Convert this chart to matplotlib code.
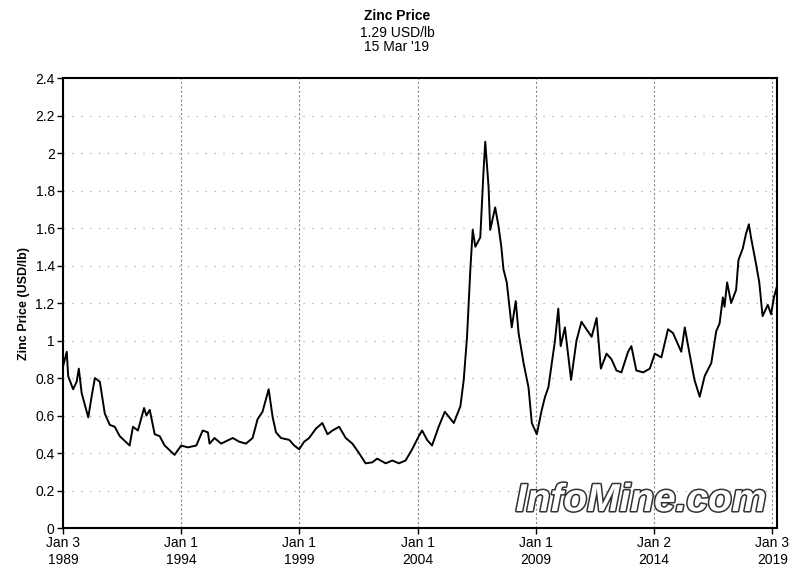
import matplotlib
matplotlib.use("Agg")
import matplotlib.pyplot as plt
import matplotlib.patheffects as pe

# zinc price, USD/lb (x in decimal years)
years = [1989.00, 1989.16, 1989.22, 1989.43, 1989.58, 1989.67, 1989.79,
         1990.07, 1990.21, 1990.35, 1990.56, 1990.77, 1990.98, 1991.19,
         1991.40, 1991.82, 1991.96, 1992.17, 1992.43, 1992.53, 1992.67,
         1992.88, 1993.09, 1993.30, 1993.72, 1994.00, 1994.28, 1994.64,
         1994.91, 1995.13, 1995.20, 1995.41, 1995.69, 1996.18, 1996.46,
         1996.74, 1997.02, 1997.23, 1997.44, 1997.70, 1997.87, 1998.01,
         1998.22, 1998.57, 1998.78, 1998.99, 1999.20, 1999.41, 1999.70,
         1999.97, 2000.19, 2000.40, 2000.68, 2000.96, 2001.24, 2001.52,
         2001.80, 2002.08, 2002.29, 2002.65, 2002.93, 2003.21, 2003.49,
         2003.77, 2004.05, 2004.19, 2004.40, 2004.61, 2004.89, 2005.15,
         2005.53, 2005.81, 2005.95, 2006.09, 2006.23, 2006.33, 2006.44,
         2006.65, 2006.79, 2006.86, 2007.00, 2007.07, 2007.28, 2007.42,
         2007.54, 2007.63, 2007.77, 2007.98, 2008.15, 2008.27, 2008.48,
         2008.69, 2008.83, 2009.04, 2009.25, 2009.39, 2009.53, 2009.81,
         2009.95, 2010.05, 2010.23, 2010.49, 2010.72, 2010.93, 2011.14,
         2011.36, 2011.57, 2011.75, 2011.99, 2012.20, 2012.41, 2012.62,
         2012.90, 2013.04, 2013.25, 2013.54, 2013.82, 2014.03, 2014.31,
         2014.59, 2014.80, 2015.15, 2015.30, 2015.50, 2015.71, 2015.93,
         2016.14, 2016.42, 2016.63, 2016.77, 2016.91, 2016.98, 2017.09,
         2017.26, 2017.47, 2017.57, 2017.75, 2017.89, 2018.01, 2018.10,
         2018.31, 2018.45, 2018.59, 2018.81, 2018.95, 2019.07, 2019.20]
prices = [0.86, 0.94, 0.81, 0.74, 0.78, 0.85, 0.72,
          0.59, 0.70, 0.80, 0.78, 0.61, 0.55, 0.54,
          0.49, 0.44, 0.54, 0.52, 0.64, 0.60, 0.63,
          0.50, 0.49, 0.44, 0.39, 0.44, 0.43, 0.44,
          0.52, 0.51, 0.45, 0.48, 0.45, 0.48, 0.46,
          0.45, 0.48, 0.58, 0.62, 0.74, 0.59, 0.51,
          0.48, 0.47, 0.44, 0.42, 0.46, 0.48, 0.53,
          0.56, 0.50, 0.52, 0.54, 0.48, 0.45, 0.40,
          0.345, 0.35, 0.37, 0.345, 0.36, 0.345, 0.36,
          0.42, 0.49, 0.52, 0.47, 0.44, 0.54, 0.62,
          0.56, 0.65, 0.79, 1.02, 1.38, 1.59, 1.50,
          1.55, 1.91, 2.06, 1.82, 1.59, 1.71, 1.61,
          1.50, 1.38, 1.31, 1.07, 1.21, 1.04, 0.88,
          0.75, 0.56, 0.50, 0.63, 0.70, 0.75, 1.00,
          1.17, 0.97, 1.07, 0.79, 1.00, 1.10, 1.06,
          1.02, 1.12, 0.85, 0.93, 0.90, 0.84, 0.83,
          0.94, 0.97, 0.84, 0.83, 0.85, 0.93, 0.91,
          1.06, 1.04, 0.94, 1.07, 0.93, 0.79, 0.70,
          0.81, 0.88, 1.05, 1.09, 1.23, 1.18, 1.31,
          1.20, 1.27, 1.43, 1.49, 1.57, 1.62, 1.55,
          1.41, 1.31, 1.13, 1.19, 1.14, 1.23, 1.29]

tick_pos = [1989.005, 1994.0, 1999.0, 2004.0, 2009.0, 2014.003, 2019.005]
tick_labels = ["Jan 3\n1989", "Jan 1\n1994", "Jan 1\n1999", "Jan 1\n2004",
               "Jan 1\n2009", "Jan 2\n2014", "Jan 3\n2019"]
y_ticks = [0, 0.2, 0.4, 0.6, 0.8, 1, 1.2, 1.4, 1.6, 1.8, 2, 2.2, 2.4]

plt.rcParams['font.family'] = ['Liberation Sans', 'DejaVu Sans']

fig = plt.figure(figsize=(7.94, 5.78), dpi=100)
ax = fig.add_axes([0.0793, 0.0865, 0.8993, 0.7785])

ax.plot(years, prices, color='black', linewidth=1.4)

ax.set_xlim(1989.0, 2019.2)
ax.set_ylim(0, 2.4)
ax.set_xticks(tick_pos)
ax.set_xticklabels(tick_labels, fontsize=10)
ax.set_yticks(y_ticks)
ax.set_yticklabels([f"{v:g}" for v in y_ticks], fontsize=10)
ax.tick_params(direction='out', length=4, width=1, pad=2)

ax.xaxis.grid(True, color='#888888', linestyle=(0, (2, 2)), linewidth=0.8)
ax.yaxis.grid(True, color='#999999', linestyle=(0, (1, 7)), linewidth=0.8)
for s in ax.spines.values():
    s.set_linewidth(1.5)

ax.set_ylabel("Zinc Price (USD/lb)", fontsize=9, fontweight='bold', labelpad=4)

fig.text(0.5, 0.985, "Zinc Price", ha='center', va='top',
         fontsize=10, fontweight='bold')
fig.text(0.5, 0.955, "1.29 USD/lb\n15 Mar '19", ha='center', va='top',
         fontsize=10, linespacing=1.0)

# watermark, outlined italic letters
ax.text(0.985, 0.02, "InfoMine.com", transform=ax.transAxes, ha='right',
        va='bottom', fontsize=28, fontstyle='italic', fontweight='bold',
        family='Liberation Sans', color='white',
        path_effects=[pe.withStroke(linewidth=2.2, foreground='#333333')])

fig.savefig("out.png", dpi=100)
